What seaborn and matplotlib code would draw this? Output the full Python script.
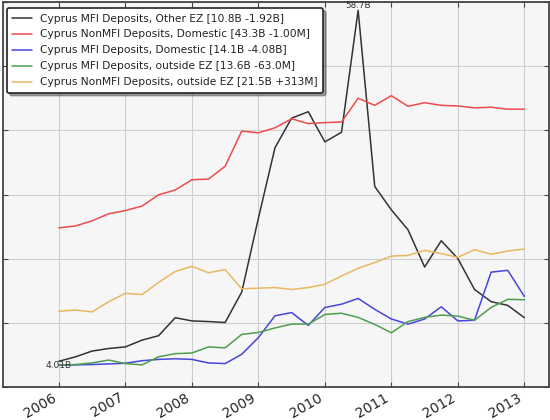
import matplotlib
matplotlib.use("Agg")
import matplotlib.pyplot as plt
import seaborn as sns
import pandas as pd
import numpy as np

# quarterly observations, decimal years
quarters = [2006.00, 2006.25, 2006.50, 2006.75, 2007.00, 2007.25, 2007.50, 2007.75,
            2008.00, 2008.25, 2008.50, 2008.75, 2009.00, 2009.25, 2009.50, 2009.75,
            2010.00, 2010.25, 2010.50, 2010.75, 2011.00, 2011.25, 2011.50, 2011.75,
            2012.00, 2012.25, 2012.50, 2012.75, 2013.00]

mfi_other_ez = [4.01, 4.7, 5.6, 6.0, 6.25, 7.3, 8.0, 10.8, 10.3, 10.2, 10.05, 14.8,
                26.3, 37.3, 41.9, 42.9, 38.2, 39.7, 58.7, 31.25, 27.6, 24.5, 18.7, 22.8,
                20.0, 15.2, 13.3, 12.72, 10.8]
nonmfi_domestic = [24.8, 25.1, 25.9, 27.0, 27.5, 28.2, 29.95, 30.7, 32.3, 32.4, 34.4, 39.9,
                   39.6, 40.4, 41.8, 41.05, 41.2, 41.3, 45.0, 43.9, 45.4, 43.75, 44.3, 43.9,
                   43.8, 43.5, 43.6, 43.3, 43.3]
mfi_domestic = [3.4, 3.45, 3.5, 3.6, 3.7, 4.1, 4.3, 4.4, 4.3, 3.75, 3.65, 5.1,
                7.7, 11.1, 11.6, 9.6, 12.4, 12.9, 13.8, 12.1, 10.6, 9.8, 10.6, 12.5,
                10.3, 10.4, 17.9, 18.18, 14.1]
mfi_outside_ez = [3.45, 3.5, 3.75, 4.2, 3.65, 3.45, 4.7, 5.2, 5.3, 6.25, 6.1, 8.2,
                  8.5, 9.2, 9.8, 9.8, 11.3, 11.5, 10.85, 9.75, 8.45, 10.2, 10.85, 11.2,
                  11.05, 10.4, 12.4, 13.66, 13.6]
nonmfi_outside_ez = [11.8, 12.0, 11.7, 13.3, 14.6, 14.4, 16.3, 18.0, 18.8, 17.8, 18.3, 15.3,
                     15.4, 15.5, 15.2, 15.5, 16.0, 17.3, 18.5, 19.4, 20.4, 20.5, 21.3, 20.8,
                     20.2, 21.4, 20.7, 21.19, 21.5]

labels = ["Cyprus MFI Deposits, Other EZ [10.8B -1.92B]",
          "Cyprus NonMFI Deposits, Domestic [43.3B -1.00M]",
          "Cyprus MFI Deposits, Domestic [14.1B -4.08B]",
          "Cyprus MFI Deposits, outside EZ [13.6B -63.0M]",
          "Cyprus NonMFI Deposits, outside EZ [21.5B +313M]"]
series = [mfi_other_ez, nonmfi_domestic, mfi_domestic, mfi_outside_ez, nonmfi_outside_ez]
colors = ["#333333", "#ee4c4c", "#4646dc", "#4e9e4e", "#e8b862"]
year_ticks = [2006, 2007, 2008, 2009, 2010, 2011, 2012, 2013]
max_label = "58.7B"
min_label = "4.01B"

rows = []
for lab, vals in zip(labels, series):
    for t, v in zip(quarters, vals):
        rows.append({"t": t, "v": v, "series": lab})
df = pd.DataFrame(rows)

sns.set_theme(style="white")
plt.rcParams['font.family'] = ['DejaVu Sans']

fig = plt.figure(figsize=(5.5, 4.2), dpi=100)
ax = fig.add_axes([3/550, 1-387/420, 546/550, 385/420])
ax.set_facecolor("#f6f6f6")

sns.lineplot(data=df, x="t", y="v", hue="series", hue_order=labels,
             palette=dict(zip(labels, colors)), ax=ax, linewidth=1.1, legend=False)

ax.set_xlim(2005.16, 2013.37)
ax.set_ylim(0, 60)
ax.set_xticks(year_ticks)
ax.set_xticklabels([str(y) for y in year_ticks], rotation=30, ha="right", fontsize=10)
ax.set_yticks([0, 10, 20, 30, 40, 50, 60])
ax.set_yticklabels([])
ax.set_xlabel("")
ax.set_ylabel("")
ax.grid(True, color="#cfcfcf", linewidth=0.8, linestyle="-")
ax.tick_params(direction="in", length=3.5, width=0.8, color="#444444",
               top=True, right=True, bottom=True, left=True, pad=2.5)
for sp in ax.spines.values():
    sp.set_color("#444444")
    sp.set_linewidth(1.3)

# annotations at max and min of the first series
imax = int(np.argmax(mfi_other_ez))
imin = int(np.argmin(mfi_other_ez))
ax.text(quarters[imax], mfi_other_ez[imax], max_label, ha="center", va="bottom",
        fontsize=6.3, color="#333333")
ax.text(quarters[imin], mfi_other_ez[imin], min_label, ha="center", va="top",
        fontsize=6.5, color="#333333")

handles = [plt.Line2D([], [], color=c, linewidth=1.1) for c in colors]
leg = ax.legend(handles, labels, loc="upper left", bbox_to_anchor=(0.0073, 0.984),
                borderaxespad=0, fontsize=7.7, labelspacing=0.56, handlelength=1.8,
                handletextpad=0.8, frameon=True, fancybox=True, shadow=True,
                framealpha=1.0, borderpad=0.5)
leg.get_frame().set_edgecolor("#222222")
leg.get_frame().set_linewidth(1.2)
leg.get_frame().set_facecolor("white")
for txt in leg.get_texts():
    txt.set_color("#222222")

fig.savefig("out.png", dpi=100)
